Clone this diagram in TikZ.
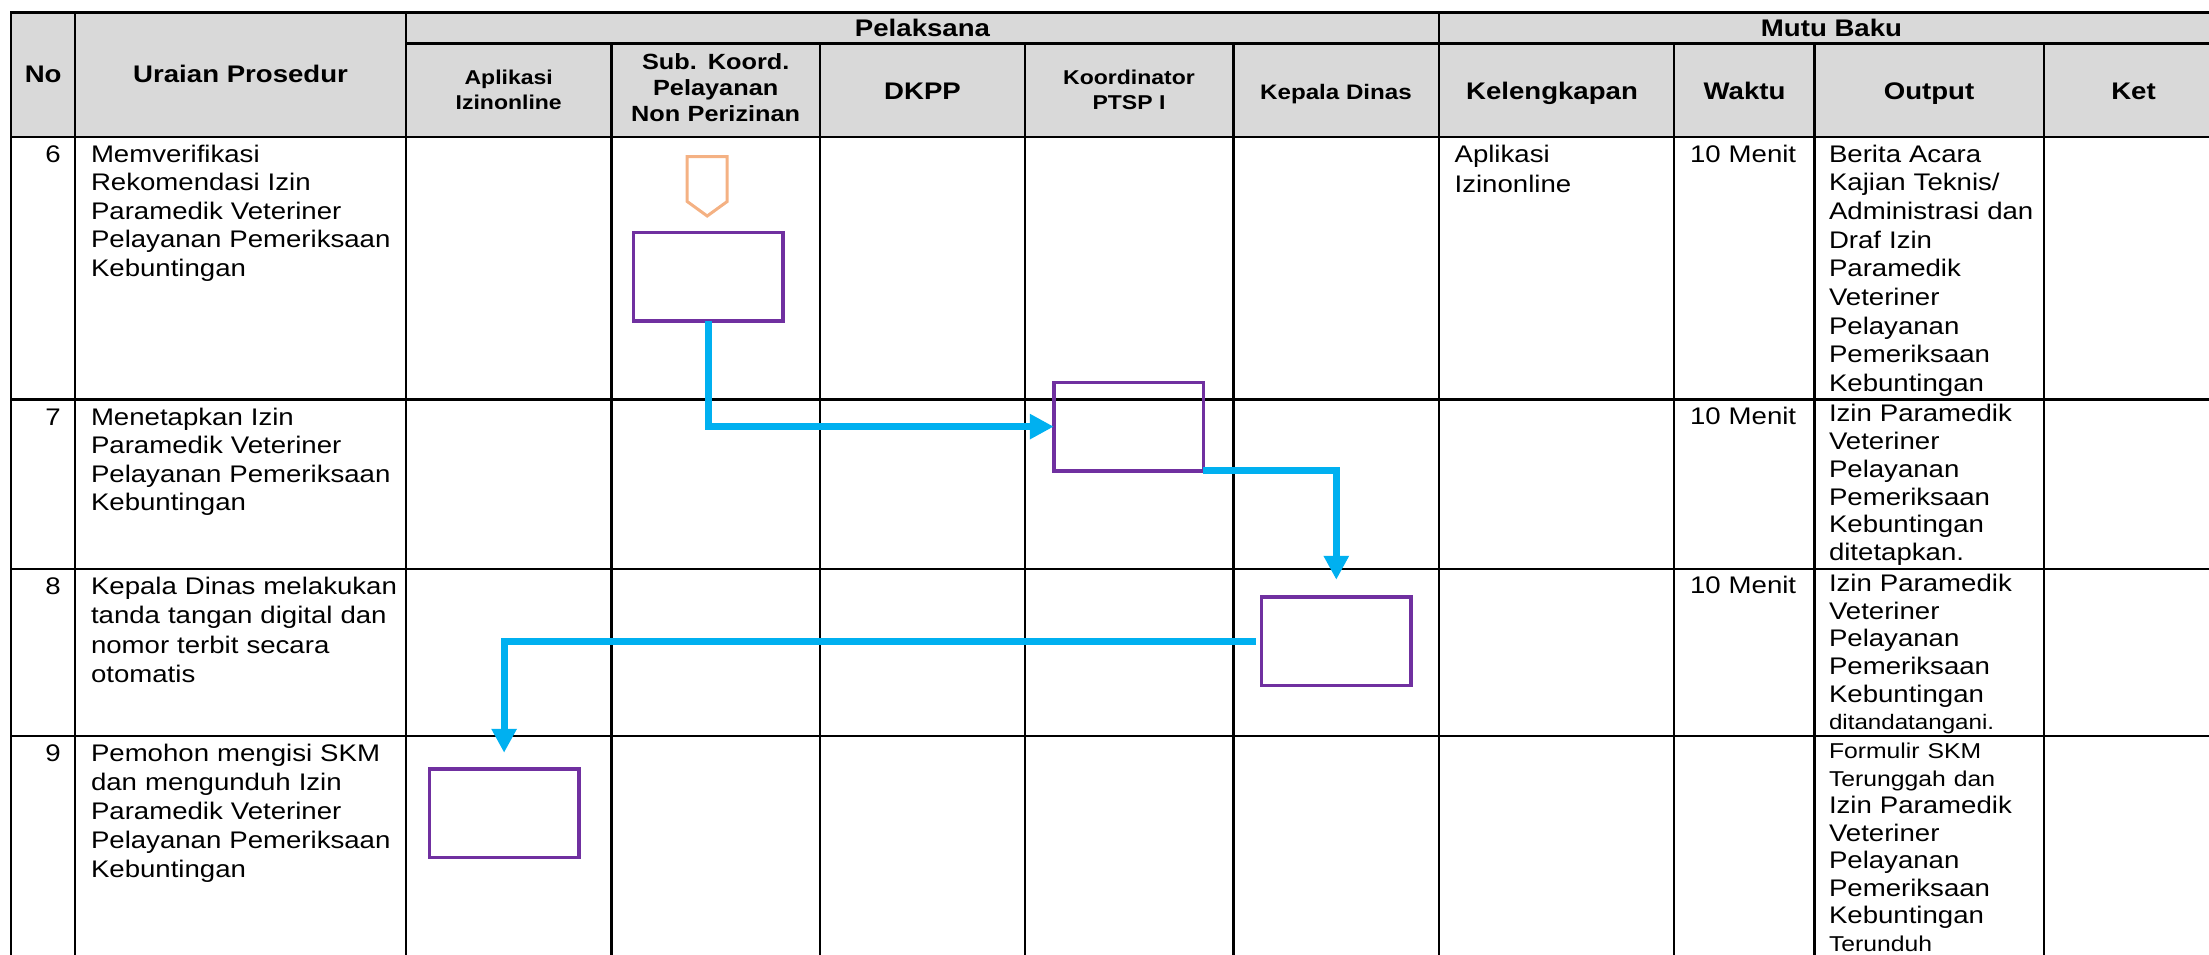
\documentclass[tikz,border=0pt]{standalone}
\usepackage{fontspec}
\setmainfont{Liberation Sans}[FakeStretch=1.15]
\usetikzlibrary{arrows.meta,calc}
\definecolor{hdrgray}{HTML}{D9D9D9}
\definecolor{flowblue}{HTML}{00B0F0}
\definecolor{procpurple}{HTML}{7030A0}
\definecolor{connorange}{HTML}{F4B183}
\begin{document}
\begin{tikzpicture}[x=1pt,y=-1pt,
  grid/.style={line width=2.2pt, black, line cap=rect},
  body/.style={font=\fontsize{24}{28.6}\selectfont, inner sep=0pt, outer sep=0pt, anchor=base west, text width=#1, align=left},
  body/.default=320pt,
  num/.style={font=\fontsize{24}{28.6}\selectfont, inner sep=0pt, anchor=base east},
  hdr/.style={font=\bfseries\fontsize{24}{28}\selectfont, inner sep=0pt, anchor=base, align=center},
  hdrs/.style={font=\bfseries\fontsize{20}{25}\selectfont, inner sep=0pt, align=center},
  hdrm/.style={font=\bfseries\fontsize{22}{26}\selectfont, inner sep=0pt, anchor=base, text width=200pt, align=center},
  proc/.style={draw=procpurple, line width=3.5pt, minimum width=149.5pt, minimum height=88.5pt, inner sep=0pt, outer sep=0pt},
  flow/.style={draw=flowblue, line width=7pt, line join=miter, -{Triangle[length=24pt,width=24pt]}},
  offpage/.style={draw=connorange, line width=3pt, line join=miter}
]
\useasboundingbox (0,0) rectangle (2209,954);
% header background
\fill[hdrgray] (11,12.5) rectangle (2209,136.7);
% horizontal rules
\draw[grid] (11,12.5) -- (2209,12.5);
\draw[grid] (406,43.5) -- (2209,43.5);
\draw[grid] (11,136.7) -- (2209,136.7);
\draw[grid] (11,399.5) -- (2209,399.5);
\draw[grid] (11,569) -- (2209,569);
\draw[grid] (11,736) -- (2209,736);
% vertical rules
\foreach \x in {11,75.3,406,1439} \draw[grid] (\x,12.5) -- (\x,954);
\foreach \x in {611.5,820,1025,1233.5,1674,1814.5,2044} \draw[grid] (\x,43.5) -- (\x,954);

% header texts
\node[hdr] (hNo) at (43.2,82.7) {No};
\node[hdr] (hUr) at (240.6,82.7) {Uraian Prosedur};
\node[hdr] (hPel) at (922.5,36.5) {Pelaksana};
\node[hdr] (hMutu) at (1831.5,36.5) {Mutu Baku};
\node[hdrs] (hApl) at (508.7,90) {Aplikasi\\Izinonline};
\node[hdrm] (hSub) at (715.7,69) {Sub. Koord.\\Pelayanan\\Non Perizinan};
\node[hdr] (hDKPP) at (922.5,99) {DKPP};
\node[hdrs] (hKoord) at (1129,90) {Koordinator\\PTSP I};
\node[hdr, font=\bfseries\fontsize{21}{25}\selectfont] (hKep) at (1336,99) {Kepala Dinas};
\node[hdr] (hKel) at (1552,99) {Kelengkapan};
\node[hdr] (hWak) at (1744.5,99) {Waktu};
\node[hdr] (hOut) at (1929,99) {Output};
\node[hdr] (hKet) at (2133.5,99) {Ket};

% row numbers
\node[num] (n6) at (61,162) {6};
\node[num] (n7) at (61,425) {7};
\node[num] (n8) at (61,594) {8};
\node[num] (n9) at (61,761) {9};

% procedures
\node[body] (u6) at (91,162) {Memverifikasi\\Rekomendasi Izin\\Paramedik Veteriner\\Pelayanan Pemeriksaan\\Kebuntingan};
\node[body] (u7) at (91,425) {Menetapkan Izin\\Paramedik Veteriner\\Pelayanan Pemeriksaan\\Kebuntingan};
\node[body, font=\fontsize{24}{29.5}\selectfont] (u8) at (91,594) {Kepala Dinas melakukan\\tanda tangan digital dan\\nomor terbit secara\\otomatis};
\node[body, font=\fontsize{24}{29}\selectfont] (u9) at (91,761) {Pemohon mengisi SKM\\dan mengunduh Izin\\Paramedik Veteriner\\Pelayanan Pemeriksaan\\Kebuntingan};

% kelengkapan
\node[body=210pt, font=\fontsize{24}{30}\selectfont] (k6) at (1454.6,162) {Aplikasi\\Izinonline};

% waktu
\node[body=120pt] (w6) at (1690,162) {10 Menit};
\node[body=120pt] (w7) at (1690,424) {10 Menit};
\node[body=120pt] (w8) at (1690,593) {10 Menit};

% output
\node[body=215pt, font=\fontsize{24}{28.7}\selectfont] (o6) at (1829,162) {Berita Acara\\Kajian Teknis/\\Administrasi dan\\Draf Izin\\Paramedik\\Veteriner\\Pelayanan\\Pemeriksaan\\Kebuntingan};
\node[body=215pt, font=\fontsize{24}{27.8}\selectfont] (o7) at (1829,421.6) {Izin Paramedik\\Veteriner\\Pelayanan\\Pemeriksaan\\Kebuntingan\\ditetapkan.};
\node[body=215pt, font=\fontsize{24}{27.7}\selectfont] (o8) at (1829,591.4) {Izin Paramedik\\Veteriner\\Pelayanan\\Pemeriksaan\\Kebuntingan\\{\fontsize{21}{27.7}\selectfont ditandatangani.}};
\node[body=215pt, font=\fontsize{24}{27.5}\selectfont] (o9) at (1829,758.7) {{\fontsize{21.5}{27.5}\selectfont Formulir SKM}\\{\fontsize{21.5}{27.5}\selectfont Terunggah dan}\\Izin Paramedik\\Veteriner\\Pelayanan\\Pemeriksaan\\Kebuntingan\\{\fontsize{21.5}{27.5}\selectfont Terunduh}};

% off-page connector
\coordinate (oc) at (707.2,156.5);
\draw[offpage] (oc) ++(-20,0) -- ++(40,0) -- ++(0,45) -- ++(-20,14.5) -- ++(-20,-14.5) -- cycle;

% process boxes
\node[proc] (b1) at (708.2,276.6) {};
\node[proc] (b2) at (1128.5,426.6) {};
\node[proc] (b3) at (1336.3,641) {};
\node[proc] (b4) at (504.1,813) {};

% flow arrows
\draw[flow] (b1.south) -- (b1.south |- b2.west) -- (b2.west);
\draw[flow, shorten >=17pt] (b2.south east) -- (b2.south east -| b3.north) -- (b3.north);
\draw[flow, shorten <=6pt, shorten >=16pt] (b3.west) -- (b3.west -| b4.north) -- (b4.north);
\end{tikzpicture}
\end{document}
